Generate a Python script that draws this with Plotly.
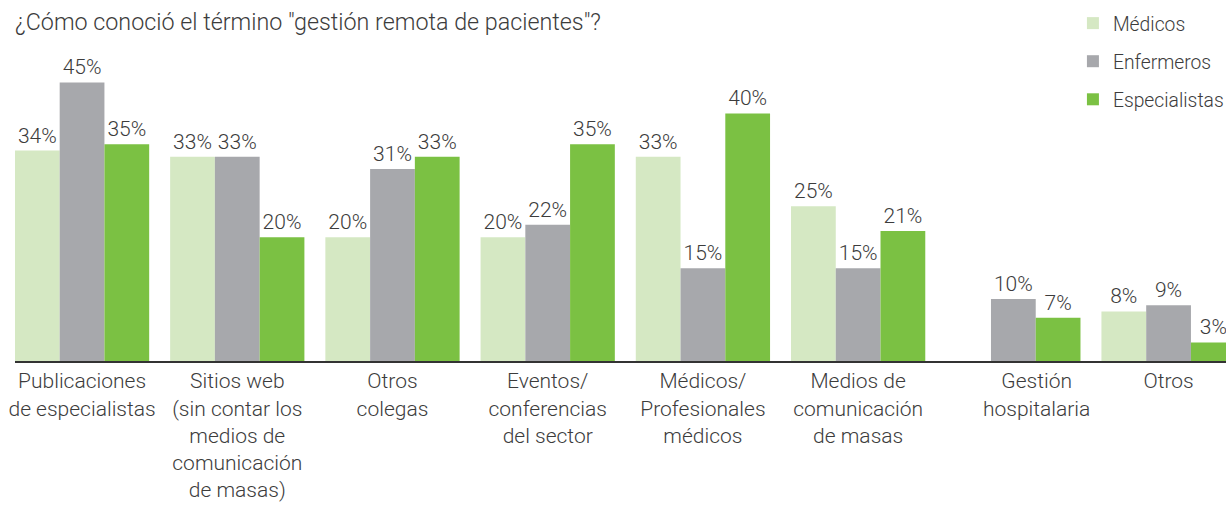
import plotly.graph_objects as go

# datos
categorias = ["Publicaciones<br>de especialistas",
              "Sitios web<br>(sin contar los<br>medios de<br>comunicación<br>de masas)",
              "Otros<br>colegas",
              "Eventos/<br>conferencias<br>del sector",
              "Médicos/<br>Profesionales<br>médicos",
              "Medios de<br>comunicación<br>de masas",
              "Gestión<br>hospitalaria",
              "Otros"]
medicos = [34, 33, 20, 20, 33, 25, None, 8]
enfermeros = [45, 33, 31, 22, 15, 15, 10, 9]
especialistas = [35, 20, 33, 35, 40, 21, 7, 3]

# posiciones de las etiquetas (la de "Gestión" va centrada en sus dos barras)
pos = [0, 1, 2, 3, 4, 5, 6.15, 7]

FONT = "Roboto, Liberation Sans, sans-serif"
TXT = "#3c3c3c"

series = [("Médicos", medicos, "#d5e8c3"),
          ("Enfermeros", enfermeros, "#a7a8ac"),
          ("Especialistas", especialistas, "#7bc143")]

fig = go.Figure()
for name, vals, color in series:
    fig.add_trace(go.Bar(
        x=list(range(len(categorias))), y=vals, name=name,
        marker=dict(color=color, line=dict(width=0)),
        text=[f"{v}%" if v is not None else "" for v in vals],
        textposition="outside", constraintext="none", cliponaxis=False,
        textfont=dict(family=FONT, size=21, color=TXT, weight=300),
        legendgroup=name,
    ))

fig.update_layout(
    width=1226, height=512,
    barmode="group", bargap=0.135, bargroupgap=0,
    plot_bgcolor="white", paper_bgcolor="white",
    margin=dict(l=15, r=0, t=49, b=151, autoexpand=False),
    font=dict(family=FONT, size=21, color=TXT, weight=300),
    title=dict(text='¿Cómo conoció el término "gestión remota de pacientes"?',
               x=0, xref="paper", xanchor="left", y=0.957, yanchor="middle",
               font=dict(family=FONT, size=23.3, color=TXT, weight=300)),
    legend=dict(x=0.8736, xanchor="left", y=1.144, yanchor="top",
                traceorder="grouped", tracegroupgap=10,
                font=dict(family=FONT, size=19.3, color=TXT, weight=300),
                bgcolor="rgba(0,0,0,0)"),
    showlegend=True,
)
fig.update_xaxes(range=[-0.432, 7.37], tickmode="array", tickvals=pos,
                 ticktext=categorias, showline=True, linecolor="#333333",
                 linewidth=2, ticks="", showgrid=False, zeroline=False,
                 tickfont=dict(family=FONT, size=21, color=TXT, weight=300))
fig.update_yaxes(range=[0, 50.4], visible=False, showgrid=False, zeroline=False)

fig.write_html("out.html", config={"displayModeBar": False},
               post_script="document.body.style.margin='0';")
